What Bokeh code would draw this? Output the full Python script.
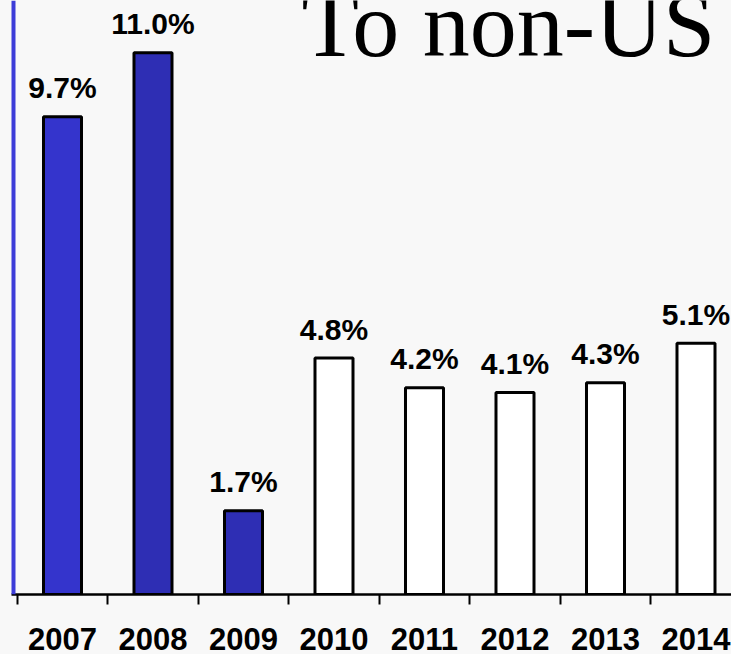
from bokeh.plotting import figure
from bokeh.models import Range1d, FixedTicker, Label, ColumnDataSource, Span
from bokeh.core.properties import value
from bokeh.embed import file_html
from bokeh.resources import INLINE

# ---- data ----
years = [2007, 2008, 2009, 2010, 2011, 2012, 2013, 2014]
year_labels = ["2007", "2008", "2009", "2010", "2011", "2012", "2013", "2014"]
growth = [9.7, 11.0, 1.7, 4.8, 4.2, 4.1, 4.3, 5.1]
value_labels = ["9.7%", "11.0%", "1.7%", "4.8%", "4.2%", "4.1%", "4.3%", "5.1%"]
title_text = "To non-US"

# ---- style ----
bar_colors = ["#3434cc", "#2e2eb4", "#2e2eb4", "#ffffff", "#ffffff", "#ffffff", "#ffffff", "#ffffff"]
BG = "#f8f8f8"

src = ColumnDataSource(dict(x=years, top=growth, lab=value_labels, color=bar_colors))

W, H = 731, 654
left_border = 11
bottom_border = 60
px_per_cat = 90.5
frame_w = W - left_border
x_start = years[0] - 0.5 - 5.75 / px_per_cat
x_end = x_start + frame_w / px_per_cat
y_end = (H - bottom_border) / 49.25

p = figure(width=W, height=H, output_backend="svg", toolbar_location=None,
           x_range=Range1d(x_start, x_end), y_range=Range1d(0, y_end),
           min_border_left=left_border, min_border_right=0, min_border_top=0,
           min_border_bottom=bottom_border)
p.background_fill_color = BG
p.border_fill_color = BG
p.outline_line_color = None
p.grid.visible = False
p.yaxis.visible = False

p.vbar(x="x", top="top", width=0.42, bottom=0, source=src,
       fill_color="color", line_color="black", line_width=3)

p.text(x="x", y="top", text="lab", source=src, text_align="center",
       text_baseline="alphabetic", y_offset=-29,
       text_font=value("Liberation Sans"), text_font_style="bold",
       text_font_size="30px", text_color="black")

# x axis: labels at centres, tick marks at boundaries
bounds = [y - 0.5 for y in years] + [years[-1] + 0.5]
xa = p.xaxis[0]
xa.ticker = FixedTicker(ticks=years, minor_ticks=bounds)
xa.major_label_overrides = {y: s for y, s in zip(years, year_labels)}
xa.major_tick_in = 0
xa.major_tick_out = 0
xa.minor_tick_in = 0
xa.minor_tick_out = 10
xa.minor_tick_line_width = 2
xa.minor_tick_line_color = "black"
xa.axis_line_width = 2.5
xa.axis_line_color = "black"
xa.major_label_standoff = 23
xa.major_label_text_font = "Liberation Sans"
xa.major_label_text_font_style = "bold"
xa.major_label_text_font_size = "31px"
xa.major_label_text_color = "black"

# blue rule at the left edge of the plot area
p.add_layout(Span(location=x_start + 1.0 / px_per_cat, dimension="height",
                  line_color="#3c3cd8", line_width=6))

p.add_layout(Label(x=290, y=571, x_units="screen", y_units="screen", text=title_text,
                   text_font="Liberation Serif", text_font_size="94px",
                   text_color="black", text_baseline="alphabetic"))

html = file_html(p, INLINE)
html = html.replace("<head>", "<head><style>html,body{background:#f8f8f8;}</style>", 1)
open("out.html", "w").write(html)
